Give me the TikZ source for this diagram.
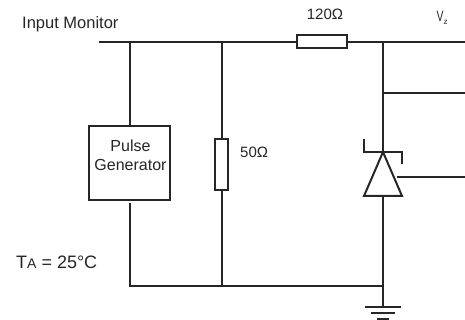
\documentclass[tikz,border=0pt]{standalone}
\usepackage{fontspec}
\setmainfont{Liberation Sans}
\tikzset{
  wire/.style={line width=2pt, color=black!85},
  res/.style={draw=black!85, line width=2pt, fill=white, inner sep=0pt},
  lbl/.style={inner sep=0pt, text=black!85, font=\fontsize{15}{18}\selectfont},
}
\begin{document}
\begin{tikzpicture}[x=1pt, y=-1pt]
  \useasboundingbox (0, 0) rectangle (465, 320);

  \coordinate (tl) at (99, 42);
  \coordinate (tg) at (129.5, 42);
  \coordinate (tr) at (221.5, 42);
  \coordinate (tz) at (383, 42);
  \coordinate (te) at (465, 42);
  \coordinate (me) at (465, 93);
  \coordinate (mz) at (383, 93);
  \coordinate (oe) at (465, 177);
  \coordinate (os) at (397, 177);
  \coordinate (gs) at (129.5, 203);
  \coordinate (bg) at (129.5, 286);
  \coordinate (br) at (221.5, 286);
  \coordinate (bz) at (383, 286);
  \coordinate (gnd) at (383, 307);
  \coordinate (k) at (383, 152);
  \coordinate (kl) at (364, 152);
  \coordinate (kr) at (402, 152);
  \coordinate (hl) at (364, 139);
  \coordinate (hr) at (402, 164);
  \coordinate (al) at (364, 196);
  \coordinate (ar) at (402, 196);
  \coordinate (a) at (383, 196);
  \coordinate (g1l) at (365, 307);
  \coordinate (g1r) at (401, 307);
  \coordinate (g2l) at (371, 313);
  \coordinate (g2r) at (395, 313);
  \coordinate (g3l) at (377, 319);
  \coordinate (g3r) at (389, 319);

  \node[res, minimum width=50pt, minimum height=13pt] (r1) at (322, 42) {};
  \node[res, minimum width=13pt, minimum height=51pt] (r2) at (221.5, 164.5) {};
  \node[res, minimum width=81pt, minimum height=74pt] (gen) at (129.5, 163) {};

  \node[lbl, anchor=west, font=\fontsize{16.5}{20}\selectfont] (input) at (22, 24) {Input Monitor};
  \node[lbl] (r1val) at (325, 14) {120Ω};
  \node[lbl, font=\fontsize{15}{17}\selectfont] (vz) at (442, 18) {\scalebox{0.7}[1]{V}\raisebox{-3pt}{\fontsize{8}{8}\selectfont z}};
  \node[lbl, anchor=west] (r2val) at (240, 152) {50Ω};
  \node[lbl, align=center, font=\fontsize{16}{18.5}\selectfont] (pulse) at (130.5, 155.5) {Pulse\\Generator};
  \node[lbl, anchor=west, font=\fontsize{18}{20}\selectfont] (temp) at (16, 262) {T{\fontsize{14}{14}\selectfont A} = 25°C};

  \draw[wire] (tl) -- (r1);
  \draw[wire] (r1) -- (te);
  \draw[wire] (tg) -- (gen);
  \draw[wire] (tr) -- (r2);
  \draw[wire] (tz) -- (k);
  \draw[wire] (mz) -- (me);
  \draw[wire] (os) -- (oe);
  \draw[wire] (r2) -- (br);
  \draw[wire] (gs) -- (bg) -- (bz);
  \draw[wire] (a) -- (gnd);
  \draw[wire] (hl) -- (kl) -- (kr) -- (hr);
  \draw[wire] (k) -- (al) -- (ar) -- cycle;
  \draw[wire] (g1l) -- (g1r);
  \draw[wire] (g2l) -- (g2r);
  \draw[wire] (g3l) -- (g3r);
\end{tikzpicture}
\end{document}
